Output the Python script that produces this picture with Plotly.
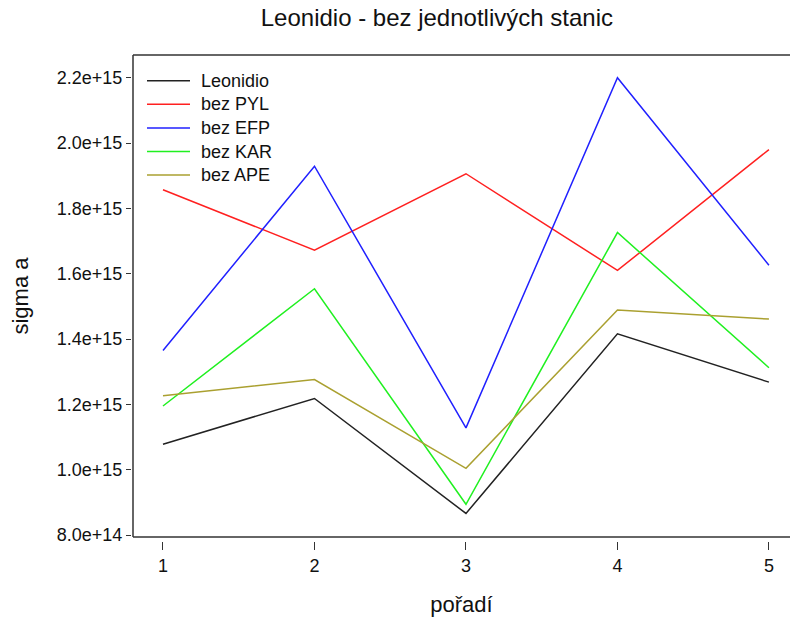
import plotly.graph_objects as go

# pořadí (order of the station subset)
poradi = [1, 2, 3, 4, 5]

# sigma a for the full set and for each station left out
leonidio = [1.078e15, 1.218e15, 0.866e15, 1.416e15, 1.268e15]
bez_pyl = [1.857e15, 1.672e15, 1.906e15, 1.610e15, 1.980e15]
bez_efp = [1.365e15, 1.929e15, 1.128e15, 2.200e15, 1.626e15]
bez_kar = [1.195e15, 1.554e15, 0.894e15, 1.726e15, 1.312e15]
bez_ape = [1.226e15, 1.276e15, 1.004e15, 1.489e15, 1.461e15]

series_names = ["Leonidio", "bez PYL", "bez EFP", "bez KAR", "bez APE"]
series_values = [leonidio, bez_pyl, bez_efp, bez_kar, bez_ape]
series_colors = ["#222222", "#ff2020", "#2020ff", "#20f020", "#aaa030"]

y_tick_vals = [0.8e15, 1.0e15, 1.2e15, 1.4e15, 1.6e15, 1.8e15, 2.0e15, 2.2e15]
y_tick_text = ["8.0e+14", "1.0e+15", "1.2e+15", "1.4e+15", "1.6e+15",
               "1.8e+15", "2.0e+15", "2.2e+15"]

FONT = "Liberation Sans, Arial, sans-serif"
W, H = 790, 619
L, R, T, B = 131, 0, 55, 78


def px_x(p):
    return (p - L) / (W - L - R)


def px_y(p):
    return (H - B - p) / (H - T - B)


fig = go.Figure()
for name, vals, col in zip(series_names, series_values, series_colors):
    fig.add_trace(go.Scatter(x=poradi, y=vals, mode="lines", name=name,
                             line=dict(color=col, width=1.5)))

# box frame (left, bottom, top); ticks sit slightly outside it
frame = dict(color="#333333", width=1.5)
fig.add_shape(type="line", xref="x domain", yref="y domain",
              x0=0, x1=0, y0=0, y1=1, line=frame)
fig.add_shape(type="line", xref="x domain", yref="y domain",
              x0=0, x1=1, y0=0, y1=0, line=frame)
fig.add_shape(type="line", xref="x domain", yref="y domain",
              x0=0, x1=1, y0=1, y1=1, line=frame)

# key in the upper-left corner
for i, (name, col) in enumerate(zip(series_names, series_colors)):
    row = 80.7 + 23.6 * i
    fig.add_shape(type="line", xref="paper", yref="paper",
                  x0=px_x(147), x1=px_x(190), y0=px_y(row), y1=px_y(row),
                  line=dict(color=col, width=1.5))
    fig.add_annotation(text=name, xref="paper", yref="paper",
                       x=px_x(199), y=px_y(row), xanchor="left", yanchor="middle",
                       showarrow=False, font=dict(size=18, color="#111111"))

fig.update_layout(
    width=W, height=H,
    margin=dict(l=L, r=R, t=T, b=B),
    paper_bgcolor="white", plot_bgcolor="white",
    font=dict(family=FONT, color="#111111", size=18),
    title=dict(text="Leonidio - bez jednotlivých stanic", x=0.553, xanchor="center",
               y=0.972, yanchor="middle", font=dict(size=24)),
    showlegend=False,
    xaxis=dict(range=[0.802, 5.139], domain=[2 / (W - L - R), 1],
               tickvals=poradi, ticktext=[str(v) for v in poradi],
               ticks="outside", ticklen=8, tickwidth=1.2, tickcolor="#333333",
               showgrid=False, zeroline=False, showline=False,
               anchor="free", position=0,
               title=dict(text="pořadí", font=dict(size=22), standoff=22)),
    yaxis=dict(range=[0.7939e15, 2.2695e15], domain=[4 / (H - T - B), 1],
               tickvals=y_tick_vals, ticktext=y_tick_text,
               ticks="outside", ticklen=5, tickwidth=1.2, tickcolor="#333333",
               showgrid=False, zeroline=False, showline=False,
               anchor="free", position=0,
               title=dict(text="sigma a", font=dict(size=22), standoff=21)),
)

fig.write_html("out.html")
